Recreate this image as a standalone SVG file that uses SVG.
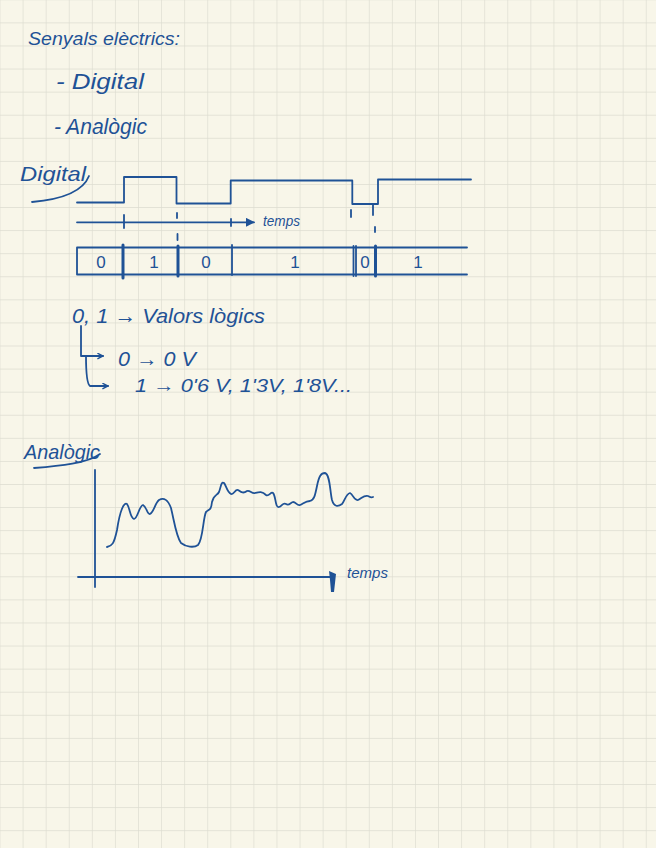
<svg xmlns="http://www.w3.org/2000/svg" width="656" height="848" viewBox="0 0 656 848">
<defs>
<pattern id="grid" patternUnits="userSpaceOnUse" x="22.6" y="22.4" width="23.08" height="23.08">
<rect width="23.08" height="23.08" fill="#f8f6e9"/>
<path d="M0,0 H23.08 M0,0 V23.08" stroke="#dcdcd0" stroke-width="1.3" fill="none"/>
</pattern>
<marker id="tri" viewBox="0 0 10 10" refX="9" refY="5" markerWidth="9" markerHeight="9" markerUnits="userSpaceOnUse" orient="auto">
<path d="M0,0 L10,5 L0,10 Z" fill="#1f5296"/>
</marker>
<marker id="open" viewBox="0 0 10 10" refX="9" refY="5" markerWidth="7" markerHeight="7" markerUnits="userSpaceOnUse" orient="auto">
<path d="M1,1 L9,5 L1,9" fill="none" stroke="#1f5296" stroke-width="2"/>
</marker>
</defs>
<style>
.ink{fill:none;stroke:#1f5296;stroke-width:1.8;stroke-linecap:round;stroke-linejoin:round}
.thick{fill:none;stroke:#1f5296;stroke-width:3;stroke-linecap:round}
.t{font-family:"Liberation Sans",Arial,sans-serif;fill:#1f5296;font-style:italic}
.b{font-family:"Liberation Sans",Arial,sans-serif;fill:#1f5296;font-size:17px;text-anchor:middle}
</style>
<rect width="656" height="848" fill="url(#grid)"/>

<g id="title">
<text class="t" x="28" y="45" font-size="19" textLength="152" lengthAdjust="spacingAndGlyphs">Senyals elèctrics:</text>
</g>
<g id="list">
<text class="t" x="56" y="89" font-size="22" textLength="88" lengthAdjust="spacingAndGlyphs">- Digital</text>
<text class="t" x="54" y="134" font-size="22" textLength="93" lengthAdjust="spacingAndGlyphs">- Analògic</text>
</g>

<g id="digital-heading">
<text class="t" x="20" y="181" font-size="21" textLength="66" lengthAdjust="spacingAndGlyphs">Digital</text>
<path class="ink" d="M32,202 C55,200 82,194 89,176"/>
</g>

<g id="digital-wave">
<path class="ink" d="M77,202.5 H124 V177 H176.5 V203.5 H230.7 V180.5 H352.3 V204 H378 V179.5 H471"/>
</g>

<g id="ticks">
<path class="ink" d="M124,215 V228 M177,213 V218 M177.5,234 V240 M231,219 V226 M351,210 V217 M373,205 V215 M375,227 V232"/>
</g>

<g id="bit-row">
<path class="ink" d="M467,247.5 H77 V274.5 H467"/>
<path class="thick" d="M123,245 V278 M178,246 V276 M375.5,246 V276"/>
<path class="ink" d="M232,245 V275 M353.5,246 V276 M356,246 V276"/>
<text class="b" x="101" y="268">0</text>
<text class="b" x="154" y="268">1</text>
<text class="b" x="206" y="268">0</text>
<text class="b" x="295" y="268">1</text>
<text class="b" x="365" y="268">0</text>
<text class="b" x="418" y="268">1</text>
</g>

<g id="temps-digital">
<text class="t" x="263" y="226" font-size="14" textLength="37" lengthAdjust="spacingAndGlyphs">temps</text>
</g>

<g id="logic-values">
<text class="t" x="72" y="323" font-size="21" textLength="193" lengthAdjust="spacingAndGlyphs">0, 1 → Valors lògics</text>
<text class="t" x="118" y="366" font-size="20" textLength="78" lengthAdjust="spacingAndGlyphs">0 → 0 V</text>
<text class="t" x="135" y="392" font-size="19" textLength="217" lengthAdjust="spacingAndGlyphs">1 → 0'6 V, 1'3V, 1'8V...</text>
</g>

<g id="analog-heading">
<text class="t" x="24" y="459" font-size="21" textLength="76" lengthAdjust="spacingAndGlyphs">Analògic</text>
<path class="ink" d="M34,468 C60,466 88,463 100,454"/>
</g>

<g id="analog-plot">
<path class="ink" d="M95,470 V587"/>
<path class="ink" d="M107,547 C112,546 114,544 117,530 C120,510 124,502 127,504 C130,508 130,518 134,519 C138,518 139,506 143,505 C147,507 147,515 150,514 C154,512 155,503 159,500 C164,497 168,500 171,508 C174,520 176,536 181,543 C186,547 194,548 198,545 C203,540 203,518 206,512 C209,509 211,511 212,502 C214,494 217,496 219,492 C221,487 221,481 224,483 C226,485 227,492 231,494 C234,495 235,489 238,490 C241,492 243,494 247,491 C250,490 252,494 255,493 C259,492 262,491 266,495 C269,497 271,491 273,493 C276,496 275,508 279,507 C282,506 283,502 286,504 C289,506 290,503 293,502 C296,502 297,506 300,505 C304,503 306,501 310,501 C314,500 315,496 317,486 C319,476 321,473 325,473 C330,474 330,492 332,500 C334,507 338,507 342,504 C345,500 346,494 350,493 C353,494 354,501 358,500 C362,498 364,495 368,496 C370,497 371,498 373,497"/>
</g>

<g id="temps-analog">
<text class="t" x="347" y="578" font-size="15" textLength="41" lengthAdjust="spacingAndGlyphs">temps</text>
</g>

<g id="connectors">
<path class="ink" d="M77,222.3 H254" marker-end="url(#tri)"/>
<path class="ink" d="M78,577 H333"/>
<path d="M329,571 L336,574 L334,592 L331,592 L330,580 Z" fill="#1f5296"/>
<path class="ink" d="M81,326 V356 H103" marker-end="url(#open)"/>
<path class="ink" d="M86,356 C86,372 87,384 90,386 H108" marker-end="url(#open)"/>
</g>
</svg>
